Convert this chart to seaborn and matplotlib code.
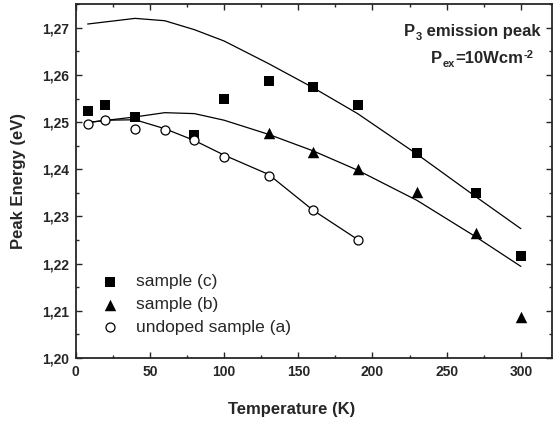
"""
plot.py

Peak energy of the P3 emission vs temperature for three samples.
"""

import pandas as pd
import matplotlib
matplotlib.use("Agg")
import matplotlib.pyplot as plt
import seaborn as sns
from matplotlib.ticker import MultipleLocator, FuncFormatter

# Measured points
temp_c = [8, 20, 40, 80, 100, 130, 160, 190, 230, 270, 300]
energy_c = [1.2524, 1.2536, 1.2511, 1.2473, 1.2548, 1.2587, 1.2574, 1.2537, 1.2435, 1.2349, 1.2215]

temp_b = [130, 160, 190, 230, 270, 300]
energy_b = [1.2476, 1.2437, 1.2401, 1.2352, 1.2265, 1.2086]

temp_a = [8, 20, 40, 60, 80, 100, 130, 160, 190]
energy_a = [1.2495, 1.2505, 1.2486, 1.2484, 1.2461, 1.2425, 1.2386, 1.2313, 1.2251]

# Fitted curves
fit_temp_c = [8, 40, 60, 80, 100, 130, 160, 190, 230, 270, 300]
fit_energy_c = [1.2708, 1.2720, 1.2715, 1.2696, 1.2672, 1.2624, 1.2573, 1.2518, 1.2432, 1.2341, 1.2274]

fit_temp_b = [8, 40, 60, 80, 100, 130, 160, 190, 230, 270, 300]
fit_energy_b = [1.2499, 1.2511, 1.2520, 1.2518, 1.2504, 1.2474, 1.2439, 1.2398, 1.2334, 1.2256, 1.2194]

fit_temp_a = [8, 20, 40, 60, 80, 100, 130, 160, 190]
fit_energy_a = [1.2499, 1.2504, 1.2505, 1.2486, 1.2461, 1.2430, 1.2389, 1.2313, 1.2251]

labels = ["sample (c)", "sample (b)", "undoped sample (a)"]


def rich_text(ax, x, y, parts, size=12):
    # chain text pieces left to right; kind is "n", "sub" or "sup"
    base = ax.text(x, y, parts[0][0], transform=ax.transAxes, ha="left",
                   va="baseline", fontsize=size, fontweight="bold")
    prev = base
    for s, kind in parts[1:]:
        fs, dy = {"n": (size, 0), "sub": (8, -2.2), "sup": (8, 4.6)}[kind]
        prev = ax.annotate(s, xy=(1, 0), xycoords=(prev, base), xytext=(0.3, dy),
                           textcoords="offset points", ha="left", va="bottom",
                           fontsize=fs, fontweight="bold")
    return base


sns.set_theme(style="ticks")
plt.rcParams["font.family"] = ["Liberation Sans", "DejaVu Sans"]

fig = plt.figure(figsize=(5.57, 4.23), dpi=100)
ax = fig.add_axes([0.136, 0.154, 0.855, 0.836])

# fit lines first so markers sit on top
for t, e in [(fit_temp_c, fit_energy_c), (fit_temp_b, fit_energy_b), (fit_temp_a, fit_energy_a)]:
    df = pd.DataFrame({"T": t, "E": e})
    sns.lineplot(data=df, x="T", y="E", ax=ax, color="black", linewidth=0.9,
                 sort=False, legend=False, label="_nolegend_")

sns.scatterplot(x=temp_c, y=energy_c, ax=ax, marker="s", color="black", s=45,
                edgecolor="black", linewidth=0, label=labels[0], zorder=3)
sns.scatterplot(x=temp_b, y=energy_b, ax=ax, marker="^", color="black", s=68,
                edgecolor="black", linewidth=0, label=labels[1], zorder=3)
sns.scatterplot(x=temp_a, y=energy_a, ax=ax, marker="o", facecolor="white", s=42,
                edgecolor="black", linewidth=0.9, label=labels[2], zorder=3)

ax.set_xlim(0, 321)
ax.set_ylim(1.20, 1.275)
ax.xaxis.set_major_locator(MultipleLocator(50))
ax.xaxis.set_minor_locator(MultipleLocator(25))
ax.yaxis.set_major_locator(MultipleLocator(0.01))
ax.yaxis.set_minor_locator(MultipleLocator(0.005))
ax.yaxis.set_major_formatter(FuncFormatter(lambda v, p: f"{v:.2f}".replace(".", ",")))

ax.tick_params(which="both", direction="in", top=True, right=True, width=1.0)
ax.tick_params(which="major", length=4.3, labelsize=10, pad=5)
ax.tick_params(which="minor", length=2.5)
for lab in ax.get_xticklabels() + ax.get_yticklabels():
    lab.set_fontweight("bold")
for sp in ax.spines.values():
    sp.set_linewidth(1.3)

ax.set_xlabel("Temperature (K)", fontsize=12, fontweight="bold")
ax.xaxis.set_label_coords(0.453, -0.125)
ax.set_ylabel("Peak Energy (eV)", fontsize=12, fontweight="bold")
ax.yaxis.set_label_coords(-0.104, 0.5)

rich_text(ax, 0.689, 0.910, [("P", "n"), ("3", "sub"), (" emission peak", "n")])
rich_text(ax, 0.746, 0.833, [("P", "n"), ("ex", "sub"), ("=10Wcm", "n"), ("-2", "sup")])

ax.legend(loc="lower left", bbox_to_anchor=(0.021, 0.045), frameon=False, fontsize=12.5,
          handletextpad=0.5, labelspacing=0.44, borderaxespad=0)

fig.savefig("out.png", dpi=100)
